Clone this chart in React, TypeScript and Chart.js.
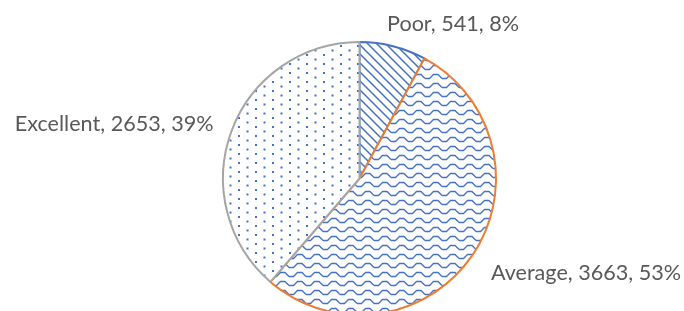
import React, { useEffect, useRef } from 'react';
import { Chart, registerables } from 'chart.js';

Chart.register(...registerables);

const categories = ['Poor', 'Average', 'Excellent'];
const values = [541, 3663, 2653];
const borderColors = ['#4472C4', '#ED7D31', '#A5A5A5'];
const patternKinds = ['diagonal', 'wave', 'dots'];

const BLUE = '#4472C4';

function makePattern(kind: string, ctx: CanvasRenderingContext2D): CanvasPattern | string {
  const c = document.createElement('canvas');
  let w = 9;
  let h = 9;
  if (kind === 'wave' || kind === 'dots') {
    w = 17;
    h = 9;
  }
  c.width = w;
  c.height = h;
  const g = c.getContext('2d')!;
  g.fillStyle = '#ffffff';
  g.fillRect(0, 0, w, h);
  g.strokeStyle = BLUE;
  g.fillStyle = BLUE;
  if (kind === 'diagonal') {
    g.lineWidth = 1.5;
    g.beginPath();
    for (const k of [-9, 0, 9]) {
      g.moveTo(k - 1, -1);
      g.lineTo(k + 10, 10);
    }
    g.stroke();
  } else if (kind === 'wave') {
    g.lineWidth = 1.3;
    g.beginPath();
    for (const x0 of [-17, 0, 17]) {
      g.moveTo(x0, 6.5);
      g.lineTo(x0 + 4.5, 6.5);
      g.lineTo(x0 + 8.5, 2.5);
      g.lineTo(x0 + 13, 2.5);
      g.lineTo(x0 + 17, 6.5);
    }
    g.stroke();
  } else {
    g.fillRect(0, 0, 2, 2);
    g.fillRect(8.5, 4.5, 2, 2);
  }
  return ctx.createPattern(c, 'repeat') || BLUE;
}

// label placement relative to each slice's outer mid-point: [dx, dy, align]
const labelOffsets: [number, number, CanvasTextAlign][] = [
  [-6, -15, 'left'],
  [19, 24, 'left'],
  [-18, 0, 'right'],
];

const labelPlugin = {
  id: 'sliceLabels',
  afterDatasetsDraw(chart: any) {
    const ctx: CanvasRenderingContext2D = chart.ctx;
    const meta = chart.getDatasetMeta(0);
    const ds = chart.data.datasets[0].data as number[];
    const total = ds.reduce((a, b) => a + b, 0);
    ctx.save();
    ctx.font = '21.6px Lato';
    ctx.fillStyle = '#595959';
    ctx.textBaseline = 'alphabetic';
    meta.data.forEach((arc: any, i: number) => {
      const { x, y, startAngle, endAngle, outerRadius } = arc.getProps(
        ['x', 'y', 'startAngle', 'endAngle', 'outerRadius'],
        true
      );
      const mid = (startAngle + endAngle) / 2;
      const ax = x + Math.cos(mid) * outerRadius;
      const ay = y + Math.sin(mid) * outerRadius;
      const [dx, dy, align] = labelOffsets[i];
      const pct = Math.round((ds[i] / total) * 100);
      const text = `${chart.data.labels[i]}, ${ds[i]}, ${pct}%`;
      ctx.textAlign = align;
      ctx.fillText(text, ax + dx, ay + dy);
    });
    ctx.restore();
  },
};

export default function App() {
  const ref = useRef<HTMLCanvasElement | null>(null);
  useEffect(() => {
    const canvas = ref.current!;
    const ctx = canvas.getContext('2d')!;
    const patterns = patternKinds.map((k) => makePattern(k, ctx));
    const chart = new Chart(canvas, {
      type: 'pie',
      data: {
        labels: categories,
        datasets: [
          {
            data: values,
            backgroundColor: patterns as any,
            borderColor: borderColors,
            borderWidth: 2,
            hoverOffset: 0,
          },
        ],
      },
      options: {
        responsive: true,
        maintainAspectRatio: false,
        animation: false,
        devicePixelRatio: 1,
        events: [],
        layout: { padding: { left: 222, right: 187, top: 41, bottom: 40 } },
        plugins: {
          legend: { display: false },
          tooltip: { enabled: false },
        },
      },
      plugins: [labelPlugin],
    });
    return () => chart.destroy();
  }, []);
  return (
    <div
      style={{
        position: 'fixed',
        left: 0,
        top: 0,
        width: 684,
        height: 311,
        overflow: 'hidden',
        background: '#ffffff',
      }}
    >
      <div style={{ position: 'relative', width: 684, height: 356 }}>
        <canvas ref={ref} />
      </div>
    </div>
  );
}
